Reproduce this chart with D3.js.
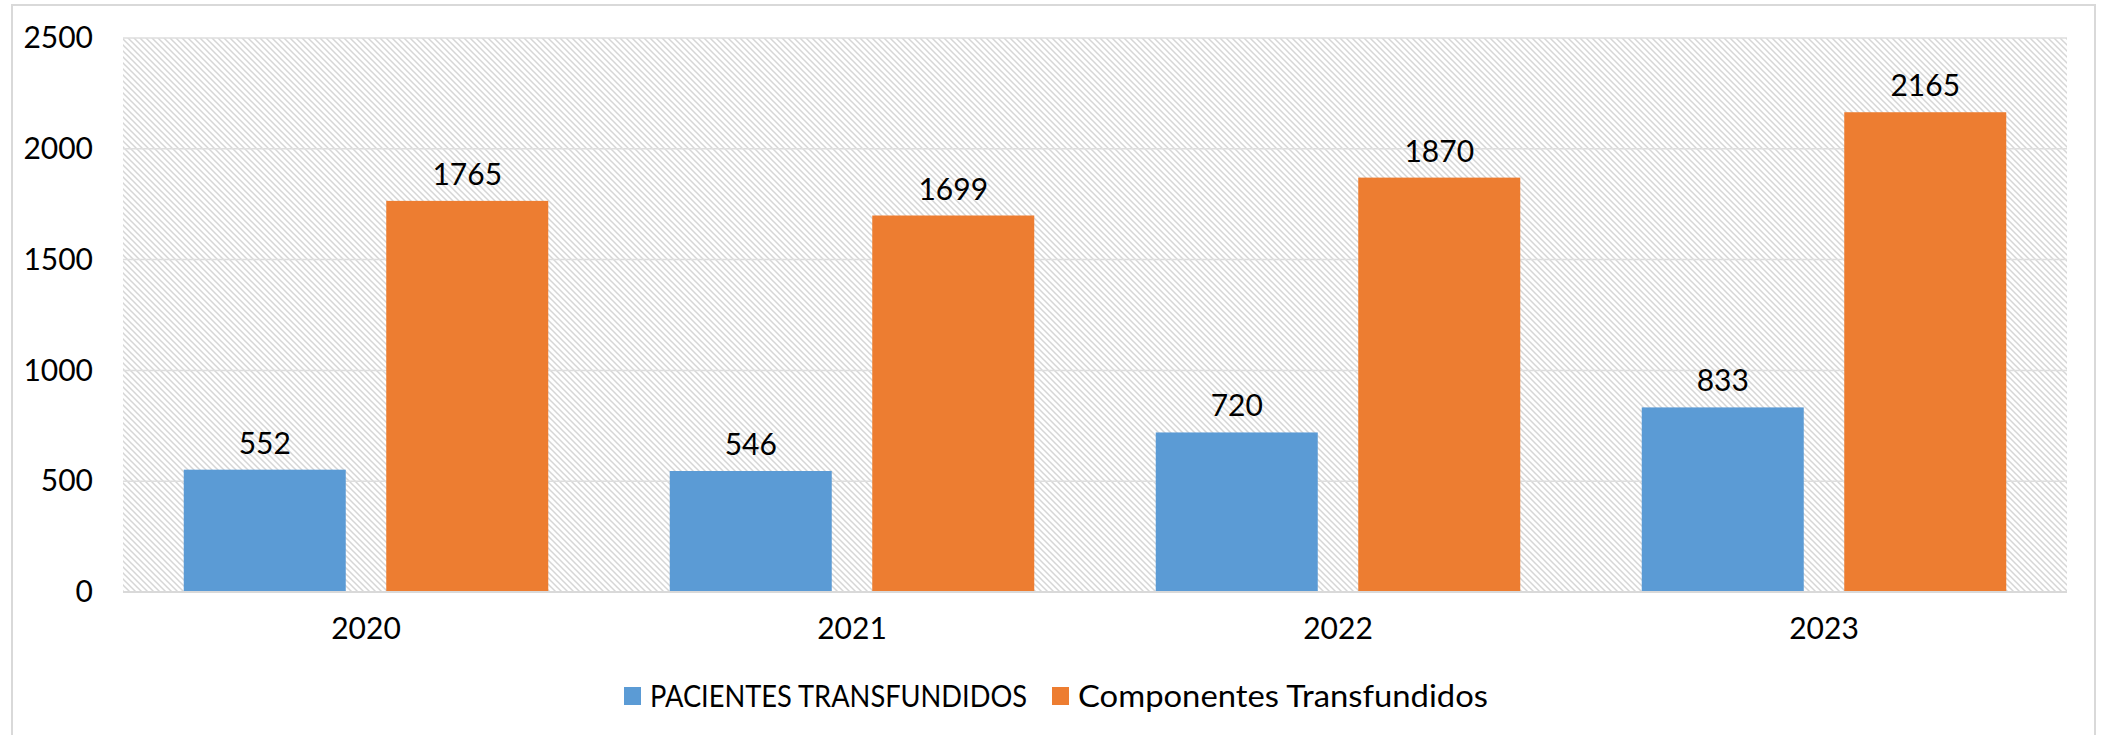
<!DOCTYPE html>
<html>
<head>
    <meta charset="utf-8">
    <title>Pacientes y Componentes Transfundidos</title>
    <style>
        body { margin: 0; background: #fff; }
        #chart { width: 2106px; height: 735px; }
        text { font-family: Lato, "Open Sans", sans-serif; fill: #000; }
    </style>
</head>
<body>
    <div id="chart"></div>

    <script src="https://d3js.org/d3.v7.min.js"></script>
    <script>
        // datos del gráfico
        var years = ["2020", "2021", "2022", "2023"];
        var pacientes = [552, 546, 720, 833];
        var componentes = [1765, 1699, 1870, 2165];
        var seriesNames = ["PACIENTES TRANSFUNDIDOS", "Componentes Transfundidos"];
        var seriesColors = ["#5b9bd5", "#ed7d31"];
        var yTicks = [0, 500, 1000, 1500, 2000, 2500];

        var width = 2106;
        var height = 735;
        var plot = { left: 123, right: 2067, top: 38, bottom: 592 };
        var fontSize = "30px";

        var svg = d3.select("#chart")
            .append("svg")
            .attr("width", width)
            .attr("height", height);

        // trama diagonal del fondo
        var defs = svg.append("defs");
        var pat = defs.append("pattern")
            .attr("id", "hatch")
            .attr("patternUnits", "userSpaceOnUse")
            .attr("width", 6)
            .attr("height", 6);
        pat.append("rect").attr("width", 6).attr("height", 6).attr("fill", "#fff");
        pat.append("path")
            .attr("d", "M-1,-1 L7,7 M-1,5 L1,7 M5,-1 L7,1")
            .attr("stroke", "#d6d6d6")
            .attr("stroke-width", 1.5);

        // borde exterior
        svg.append("rect")
            .attr("x", 12).attr("y", 5)
            .attr("width", 2083).attr("height", 760)
            .attr("fill", "none")
            .attr("stroke", "#d9d9d9")
            .attr("stroke-width", 2);

        var y = d3.scaleLinear()
            .domain([0, 2500])
            .range([plot.bottom, plot.top]);

        var x0 = d3.scaleBand()
            .domain(years)
            .range([plot.left, plot.right])
            .paddingInner(0.25)
            .paddingOuter(0.125);

        var x1 = d3.scaleBand()
            .domain([0, 1])
            .range([0, x0.bandwidth()])
            .paddingInner(0.2);

        svg.append("rect")
            .attr("x", plot.left)
            .attr("y", plot.top)
            .attr("width", plot.right - plot.left)
            .attr("height", plot.bottom - plot.top)
            .attr("fill", "url(#hatch)");

        // líneas de cuadrícula
        svg.selectAll(".grid")
            .data(yTicks.slice(1))
            .enter().append("line")
            .attr("class", "grid")
            .attr("x1", plot.left)
            .attr("x2", plot.right)
            .attr("y1", function (d) { return y(d); })
            .attr("y2", function (d) { return y(d); })
            .attr("stroke", "#dedede")
            .attr("stroke-width", 1.5);

        // eje Y
        var yAxis = svg.append("g")
            .attr("transform", "translate(" + plot.left + ",0)")
            .call(d3.axisLeft(y).tickValues(yTicks).tickFormat(d3.format("d")).tickSize(0).tickPadding(30));
        yAxis.select(".domain").remove();
        yAxis.selectAll("text")
            .style("font-size", fontSize)
            .style("font-family", "Lato, sans-serif")
            .attr("fill", "#000");

        var data = years.map(function (yr, i) {
            return { year: yr, values: [pacientes[i], componentes[i]] };
        });

        var groups = svg.selectAll(".group")
            .data(data)
            .enter().append("g")
            .attr("class", "group")
            .attr("transform", function (d) { return "translate(" + x0(d.year) + ",0)"; });

        groups.selectAll("rect")
            .data(function (d) { return d.values.map(function (v, k) { return { k: k, v: v }; }); })
            .enter().append("rect")
            .attr("x", function (d) { return x1(d.k); })
            .attr("width", x1.bandwidth())
            .attr("y", function (d) { return y(d.v); })
            .attr("height", function (d) { return y(0) - y(d.v); })
            .attr("fill", function (d) { return seriesColors[d.k]; });

        groups.selectAll(".val")
            .data(function (d) { return d.values.map(function (v, k) { return { k: k, v: v }; }); })
            .enter().append("text")
            .attr("class", "val")
            .attr("x", function (d) { return x1(d.k) + x1.bandwidth() / 2; })
            .attr("y", function (d) { return y(d.v) - 16; })
            .attr("text-anchor", "middle")
            .style("font-size", fontSize)
            .text(function (d) { return d.v; });

        // eje X
        svg.append("line")
            .attr("x1", plot.left).attr("x2", plot.right)
            .attr("y1", y(0)).attr("y2", y(0))
            .attr("stroke", "#d9d9d9")
            .attr("stroke-width", 2);

        var xAxis = svg.append("g")
            .attr("transform", "translate(0," + plot.bottom + ")")
            .call(d3.axisBottom(x0).tickSize(0).tickPadding(26));
        xAxis.select(".domain").remove();
        xAxis.selectAll("text")
            .style("font-size", fontSize)
            .style("font-family", "Lato, sans-serif")
            .attr("fill", "#000");

        // leyenda
        var legendX = [624, 1052];
        var legendLen = [377, 410];
        var legend = svg.selectAll(".legend")
            .data(seriesNames)
            .enter().append("g")
            .attr("class", "legend")
            .attr("transform", function (d, i) { return "translate(" + legendX[i] + ",696)"; });
        legend.append("rect")
            .attr("x", 0).attr("y", -9)
            .attr("width", 17).attr("height", 18)
            .attr("fill", function (d, i) { return seriesColors[i]; });
        legend.append("text")
            .attr("x", 26)
            .attr("dy", "0.35em")
            .attr("textLength", function (d, i) { return legendLen[i]; })
            .attr("lengthAdjust", "spacingAndGlyphs")
            .style("font-size", fontSize)
            .text(function (d) { return d; });
    </script>
</body>
</html>
